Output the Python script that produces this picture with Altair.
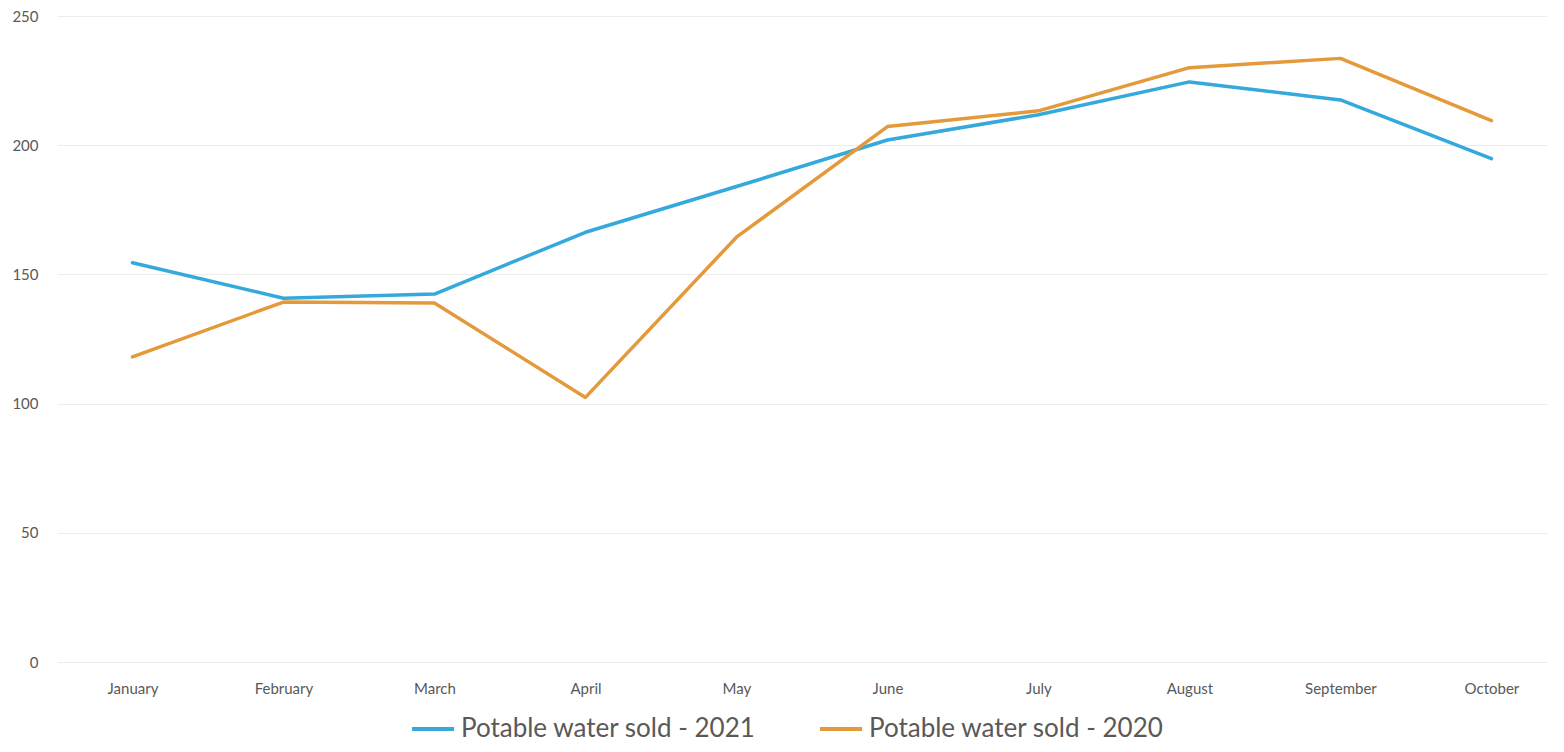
import altair as alt
import pandas as pd

months = ["January", "February", "March", "April", "May", "June",
          "July", "August", "September", "October"]
sold_2021 = [154.5, 140.8, 142.4, 166.3, 184.0, 202.0, 211.8, 224.5, 217.5, 194.8]
sold_2020 = [118.1, 139.3, 138.9, 102.4, 164.4, 207.2, 213.3, 230.0, 233.6, 209.5]
series_names = ["Potable water sold - 2021", "Potable water sold - 2020"]
series_colors = ["#35A8DC", "#E49A3A"]

rows = []
for name, vals in zip(series_names, [sold_2021, sold_2020]):
    for m, v in zip(months, vals):
        rows.append({"Month": m, "Value": v, "Series": name})
df = pd.DataFrame(rows)

FONT = "Lato"

chart = alt.Chart(df).mark_line(strokeWidth=3.5, strokeCap="round", strokeJoin="round").encode(
    x=alt.X("Month:N", sort=months,
            scale=alt.Scale(type="point", padding=0.4338, align=0.576),
            axis=alt.Axis(title=None, labelAngle=0, grid=False, domain=False, ticks=False,
                          labelPadding=19, labelFontSize=15, labelColor="#595959",
                          labelFont=FONT)),
    y=alt.Y("Value:Q", scale=alt.Scale(domain=[0, 250], nice=False),
            axis=alt.Axis(title=None, values=[0, 50, 100, 150, 200, 250], domain=False,
                          ticks=False, labelPadding=19, labelFontSize=15,
                          labelColor="#595959", labelFont=FONT,
                          gridColor="#ececec", gridWidth=1)),
    color=alt.Color("Series:N", sort=series_names,
                    scale=alt.Scale(domain=series_names, range=series_colors),
                    legend=alt.Legend(title=None, orient="none", direction="horizontal",
                                      legendX=353, legendY=690,
                                      symbolType="stroke", symbolSize=1764,
                                      symbolStrokeWidth=4, labelFontSize=26,
                                      labelFont=FONT, labelColor="#595959",
                                      labelOffset=5,
                                      columnPadding=56, labelLimit=600,
                                      padding=0)),
).properties(
    width=1490, height=646,
    padding={"left": 49, "top": 8, "right": 9, "bottom": 82},
    autosize=alt.AutoSizeParams(type="none"),
).configure_view(stroke=None)

chart.save("out.html", embed_options={"renderer": "svg", "actions": False})
